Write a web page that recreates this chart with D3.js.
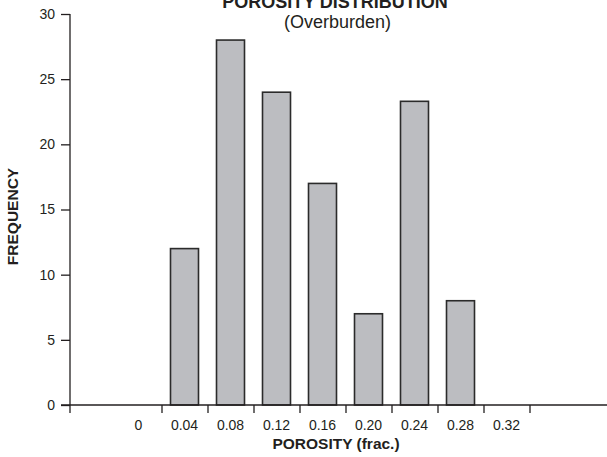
<!DOCTYPE html>
<html><head><meta charset="utf-8">
<script src="https://cdn.jsdelivr.net/npm/d3@7"></script>
<style>
body{margin:0;background:#fff;}
text{font-family:"Liberation Sans",Arial,Helvetica,sans-serif;fill:#231f20;}
</style></head>
<body>
<svg id="c" width="607" height="457"></svg>
<script>
const porosity = [0.04, 0.08, 0.12, 0.16, 0.20, 0.24, 0.28];
const frequency = [12, 28, 24, 17, 7, 23.3, 8];
const xLabelValues = [0, 0.04, 0.08, 0.12, 0.16, 0.20, 0.24, 0.28, 0.32];
const xLabelText = ["0", "0.04", "0.08", "0.12", "0.16", "0.20", "0.24", "0.28", "0.32"];
const xTickBounds = [0.02, 0.06, 0.10, 0.14, 0.18, 0.22, 0.26, 0.30, 0.34];
const yTicks = [0, 5, 10, 15, 20, 25, 30];

const svg = d3.select("#c");
const x = d3.scaleLinear().domain([0.04, 0.28]).range([184.5, 460.5]);
const y = d3.scaleLinear().domain([0, 30]).range([405, 14]);
const axisX0 = x.invert(70);
const ink = "#231f20";

// bars
svg.append("g").selectAll("rect").data(porosity).join("rect")
  .attr("x", d => x(d) - 14)
  .attr("width", 28)
  .attr("y", (d, i) => y(frequency[i]))
  .attr("height", (d, i) => y(0) - y(frequency[i]))
  .attr("fill", "#bcbdc1")
  .attr("stroke", "#2b2b2b")
  .attr("stroke-width", 1.6);

// y axis
const yAxis = d3.axisLeft(y).tickValues(yTicks).tickSize(9).tickPadding(6).tickFormat(d3.format("d"));
const gy = svg.append("g").attr("transform", `translate(70,0)`).call(yAxis);
gy.select(".domain").remove();
gy.selectAll(".tick line").attr("stroke", ink).attr("stroke-width", 1.3);
gy.selectAll(".tick text").attr("font-size", 14).attr("font-family", '"Liberation Sans",Arial,sans-serif').attr("fill", ink);
svg.append("line").attr("x1", 70).attr("x2", 70).attr("y1", y(30)).attr("y2", 413)
  .attr("stroke", ink).attr("stroke-width", 1.3);

// x axis line
svg.append("line").attr("x1", 61).attr("x2", 607).attr("y1", y(0)).attr("y2", y(0))
  .attr("stroke", ink).attr("stroke-width", 1.3);
// x ticks (interval boundaries)
const xAxis = d3.axisBottom(x).tickValues(xTickBounds).tickSize(8).tickFormat("");
const gx = svg.append("g").attr("transform", `translate(0,${y(0)})`).call(xAxis);
gx.select(".domain").remove();
gx.selectAll(".tick line").attr("stroke", ink).attr("stroke-width", 1.3);
// x labels centred in intervals
svg.append("g").selectAll("text").data(xLabelValues).join("text")
  .attr("x", d => x(d))
  .attr("y", 430)
  .attr("text-anchor", "middle")
  .attr("font-size", 14)
  .text((d, i) => xLabelText[i]);

// titles
svg.append("text").attr("x", 335).attr("y", 8).attr("text-anchor", "middle")
  .attr("font-size", 18).attr("font-weight", "bold").text("POROSITY DISTRIBUTION");
svg.append("text").attr("x", 337.5).attr("y", 28).attr("text-anchor", "middle")
  .attr("font-size", 18).text("(Overburden)");
svg.append("text").attr("x", 336).attr("y", 449).attr("text-anchor", "middle")
  .attr("font-size", 15.5).attr("font-weight", "bold").text("POROSITY (frac.)");
svg.append("text").attr("transform", "translate(18,216.5) rotate(-90)").attr("text-anchor", "middle")
  .attr("font-size", 15.5).attr("font-weight", "bold").text("FREQUENCY");
</script>
</body></html>
